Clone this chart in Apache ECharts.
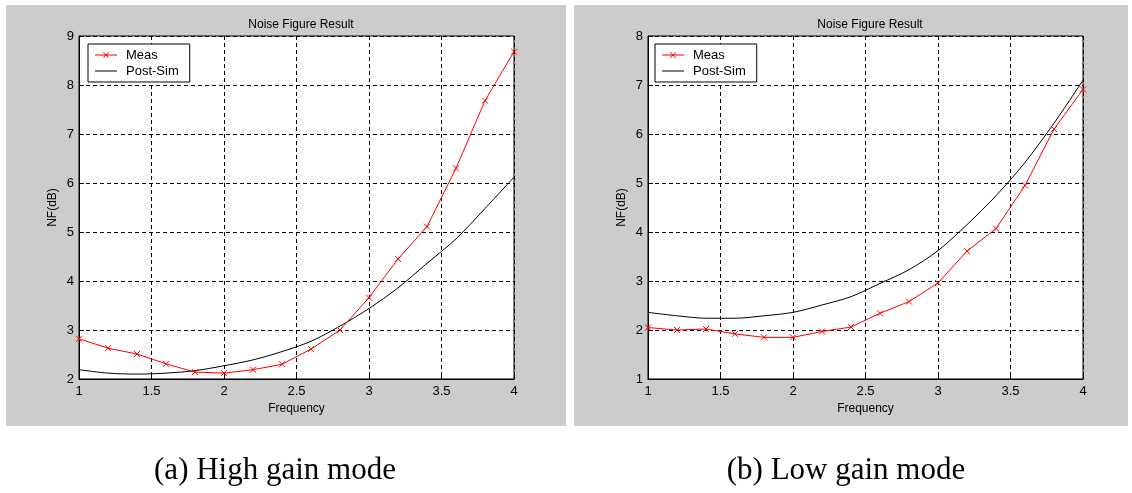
<!DOCTYPE html>
<html>
<head>
<meta charset="utf-8">
<script src="https://cdn.jsdelivr.net/npm/echarts@6/dist/echarts.min.js"></script>
<style>
	html,body{margin:0;padding:0;background:#fff;}
	#main{width:1132px;height:493px;}
</style>
</head>
<body>
<div id="main"></div>
<script>
	// frequency points (x axis)
	var freq = [1.0, 1.2, 1.4, 1.6, 1.8, 2.0, 2.2, 2.4, 2.6, 2.8, 3.0, 3.2, 3.4, 3.6, 3.8, 4.0];
	// (a) high gain mode
	var measHigh = [2.82, 2.63, 2.51, 2.31, 2.14, 2.12, 2.19, 2.30, 2.61, 3.00, 3.66, 4.45, 5.11, 6.30, 7.68, 8.68];
	var simHigh  = [2.19, 2.12, 2.10, 2.12, 2.17, 2.27, 2.39, 2.56, 2.77, 3.08, 3.44, 3.86, 4.36, 4.86, 5.48, 6.12];
	// (b) low gain mode
	var measLow = [2.05, 2.00, 2.02, 1.92, 1.85, 1.85, 1.97, 2.06, 2.34, 2.58, 2.96, 3.61, 4.07, 4.95, 6.10, 6.91];
	var simLow  = [2.36, 2.29, 2.24, 2.24, 2.29, 2.36, 2.51, 2.68, 2.95, 3.23, 3.62, 4.15, 4.74, 5.42, 6.22, 7.10];
	var xTicks = [1, 1.5, 2, 2.5, 3, 3.5, 4];
	var yRangeHigh = [2, 9];
	var yRangeLow = [1, 8];
	var captions = ['(a) High gain mode', '(b) Low gain mode'];

	var FONT = 'Liberation Sans';
	var crossSymbol = 'path://M0,0L10,10M10,0L0,10';
	// legend icons: 22x14 box (tiny corner dots keep the box), 1px line, optional x mark
	var iconBox = 'M0,0L0.01,0L0.01,0.01Z M0,14L0.01,14L0.01,13.99Z M0,6.5L22,6.5L22,7.5L0,7.5Z';
	var iconMeas = 'path://' + iconBox + ' M8,4.6L8.6,4L14,9.4L13.4,10Z M14,4.6L8.6,10L8,9.4L13.4,4Z';
	var iconSim = 'path://' + iconBox;

	function pairs(xs, ys){
		return xs.map(function(x, i){ return [x, ys[i]]; });
	}

	function makeAxis(idx, range, isX){
		return {
			type: 'value',
			gridIndex: idx,
			min: range[0],
			max: range[1],
			interval: isX ? 0.5 : 1,
			name: isX ? 'Frequency' : 'NF(dB)',
			nameLocation: 'middle',
			nameGap: isX ? 24 : 20,
			nameTextStyle: {color: '#000', fontSize: 12, fontFamily: FONT},
			axisLine: {show: true, lineStyle: {color: '#000', width: 1}},
			axisTick: {show: true, inside: true, length: 5, lineStyle: {color: '#000'}},
			axisLabel: {
				color: '#000', fontSize: 13, fontFamily: FONT,
				margin: isX ? 6 : 5,
				formatter: function(v){ return String(+v.toFixed(1)); }
			},
			splitLine: {show: true, lineStyle: {color: '#000', type: [4, 3], width: 1}}
		};
	}

	function makeLegend(left){
		return {
			left: left, top: 44,
			orient: 'vertical',
			itemWidth: 22, itemHeight: 14, itemGap: 2,
			padding: [4, 11, 4, 7],
			backgroundColor: '#fff',
			borderColor: '#000', borderWidth: 1, borderRadius: 0,
			textStyle: {color: '#000', fontSize: 13, fontFamily: FONT, padding: [0, 0, 0, 4]},
			data: [
				{name: 'Meas', icon: iconMeas, itemStyle: {borderWidth: 0}},
				{name: 'Post-Sim', icon: iconSim, itemStyle: {borderWidth: 0}}
			]
		};
	}

	function measSeries(idx, ys){
		return {
			name: 'Meas', type: 'line', xAxisIndex: idx, yAxisIndex: idx,
			data: pairs(freq, ys),
			symbol: crossSymbol, symbolSize: 6, showSymbol: true,
			lineStyle: {color: '#ff0000', width: 1},
			itemStyle: {color: '#ff0000', borderColor: '#ff0000', borderWidth: 1},
			animation: false, z: 3
		};
	}

	function simSeries(idx, ys){
		return {
			name: 'Post-Sim', type: 'line', xAxisIndex: idx, yAxisIndex: idx,
			data: pairs(freq, ys),
			symbol: 'none', smooth: 0.3,
			lineStyle: {color: '#000', width: 1},
			itemStyle: {color: '#000'},
			animation: false, z: 2
		};
	}

	var chart = echarts.init(document.getElementById('main'));
	var option = {
		backgroundColor: '#fff',
		animation: false,
		title: [
			{text: 'Noise Figure Result', left: 296, top: 14, textAlign: 'center',
				textStyle: {fontSize: 12, fontWeight: 'normal', color: '#000', fontFamily: FONT}},
			{text: 'Noise Figure Result', left: 865, top: 14, textAlign: 'center',
				textStyle: {fontSize: 12, fontWeight: 'normal', color: '#000', fontFamily: FONT}}
		],
		graphic: [
			{type: 'rect', shape: {x: 6, y: 5, width: 560, height: 421}, style: {fill: '#cccccc'}, z: -10, silent: true},
			{type: 'rect', shape: {x: 574, y: 5, width: 554, height: 421}, style: {fill: '#cccccc'}, z: -10, silent: true},
			{type: 'text', x: 275, y: 471, style: {text: captions[0], fill: '#000', font: '31px "Liberation Serif"', align: 'center', verticalAlign: 'middle'}},
			{type: 'text', x: 846, y: 471, style: {text: captions[1], fill: '#000', font: '31px "Liberation Serif"', align: 'center', verticalAlign: 'middle'}}
		],
		legend: [makeLegend(88), makeLegend(655)],
		grid: [
			{left: 79, top: 36, width: 435, height: 343, show: true, backgroundColor: '#fff', borderColor: '#000', borderWidth: 1},
			{left: 648, top: 36, width: 435, height: 343, show: true, backgroundColor: '#fff', borderColor: '#000', borderWidth: 1}
		],
		xAxis: [makeAxis(0, [xTicks[0], xTicks[xTicks.length - 1]], true), makeAxis(1, [xTicks[0], xTicks[xTicks.length - 1]], true)],
		yAxis: [makeAxis(0, yRangeHigh, false), makeAxis(1, yRangeLow, false)],
		series: [
			measSeries(0, measHigh), simSeries(0, simHigh),
			measSeries(1, measLow), simSeries(1, simLow)
		]
	};
	chart.setOption(option);
</script>
</body>
</html>
